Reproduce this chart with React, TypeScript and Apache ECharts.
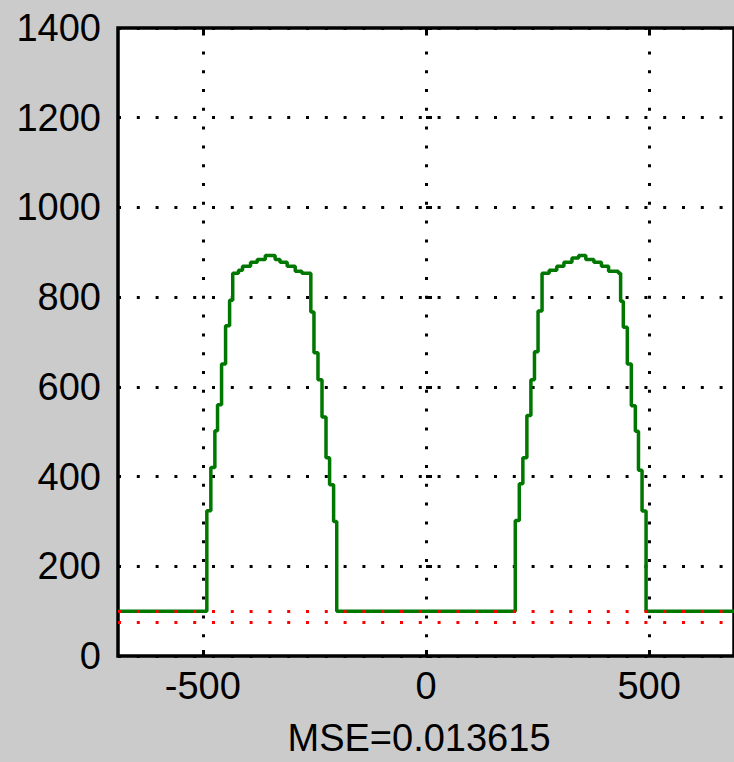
import React, { useEffect, useRef } from "react";
import * as echarts from "echarts";

// Step signal: x position of each edge and the level held after it
const xEdges = [
  -690, -491, -482, -473, -467, -458, -449, -440, -433, -420, -411, -393, -378, -360,
  -338, -327, -311, -293, -278, -258, -251, -242, -233, -224, -216, -207, -200,
  200, 209, 217, 226, 235, 243, 251, 260, 276, 293, 309, 327, 342,
  358, 376, 393, 409, 431, 436, 442, 451, 460, 469, 476, 484, 493, 690,
];
const levels = [
  100, 324, 420, 502, 560, 651, 736, 793, 853, 860, 869, 878, 884, 893,
  884, 878, 869, 858, 853, 767, 676, 616, 533, 442, 382, 300, 100,
  302, 384, 442, 536, 616, 678, 769, 853, 860, 869, 878, 887, 893,
  884, 878, 869, 858, 853, 791, 733, 651, 558, 501, 414, 323, 100, 100,
];
const redLevels = [100, 75];
const xTicks = [-500, 0, 500];
const xMin = -690;
const xMax = 690;
const yMin = 0;
const yMax = 1400;
const yStep = 200;
const xTitle = "MSE=0.013615";

const FONT = "'Liberation Sans', Arial, sans-serif";
const DOT: number[] = [3, 15.8];

export default function App() {
  const ref = useRef<HTMLDivElement>(null);
  useEffect(() => {
    if (!ref.current) return;
    const chart = echarts.init(ref.current, null, { renderer: "svg" });
    const data = xEdges.map((x, i) => [x, levels[i]]);
    const plain = (v: number) => String(v);
    chart.setOption({
      animation: false,
      backgroundColor: "#cbcbcb",
      textStyle: { fontFamily: FONT },
      grid: {
        left: 118,
        top: 28,
        bottom: 104,
        right: -5.5,
        show: true,
        backgroundColor: "#ffffff",
        borderColor: "#000000",
        borderWidth: 3.5,
      },
      xAxis: [
        {
          type: "value",
          min: xMin,
          max: xMax,
          position: "bottom",
          axisLine: { show: false },
          splitLine: { show: false },
          axisTick: {
            show: true,
            inside: true,
            length: 6,
            customValues: xTicks,
            lineStyle: { color: "#000", width: 3 },
          },
          axisLabel: {
            customValues: xTicks,
            formatter: plain,
            color: "#000",
            fontSize: 38,
            fontFamily: FONT,
            margin: 11,
          },
          name: xTitle,
          nameLocation: "middle",
          nameGap: 63,
          nameTextStyle: {
            color: "#000",
            fontSize: 38,
            fontFamily: FONT,
            padding: [0, 14, 0, 0],
          },
        },
        {
          type: "value",
          min: xMin,
          max: xMax,
          position: "top",
          axisLine: { show: false },
          splitLine: { show: false },
          axisLabel: { show: false },
          axisTick: {
            show: true,
            inside: true,
            length: 6,
            customValues: xTicks,
            lineStyle: { color: "#000", width: 3 },
          },
        },
      ],
      yAxis: {
        type: "value",
        min: yMin,
        max: yMax,
        interval: yStep,
        axisLine: { show: false },
        axisTick: {
          show: true,
          inside: true,
          length: 6,
          lineStyle: { color: "#000", width: 3 },
        },
        axisLabel: {
          formatter: plain,
          color: "#000",
          fontSize: 38,
          fontFamily: FONT,
          margin: 17,
        },
        splitLine: {
          show: true,
          lineStyle: { color: "#000", width: 3, type: DOT },
        },
      },
      series: [
        {
          type: "line",
          step: "end",
          data,
          symbol: "none",
          lineStyle: { color: "#007700", width: 3.5 },
          markLine: {
            silent: true,
            symbol: "none",
            label: { show: false },
            lineStyle: { color: "#000", width: 3, type: DOT },
            data: xTicks.map((v) => ({ xAxis: v })),
          },
          z: 2,
        },
        {
          type: "line",
          data: [],
          symbol: "none",
          markLine: {
            silent: true,
            symbol: "none",
            label: { show: false },
            lineStyle: { color: "#ff0000", width: 3, type: DOT },
            data: redLevels.map((v) => ({ yAxis: v })),
          },
          z: 3,
        },
      ],
    });
    return () => chart.dispose();
  }, []);
  return (
    <div
      ref={ref}
      style={{ position: "fixed", left: 0, top: 0, width: 734, height: 762 }}
    />
  );
}
